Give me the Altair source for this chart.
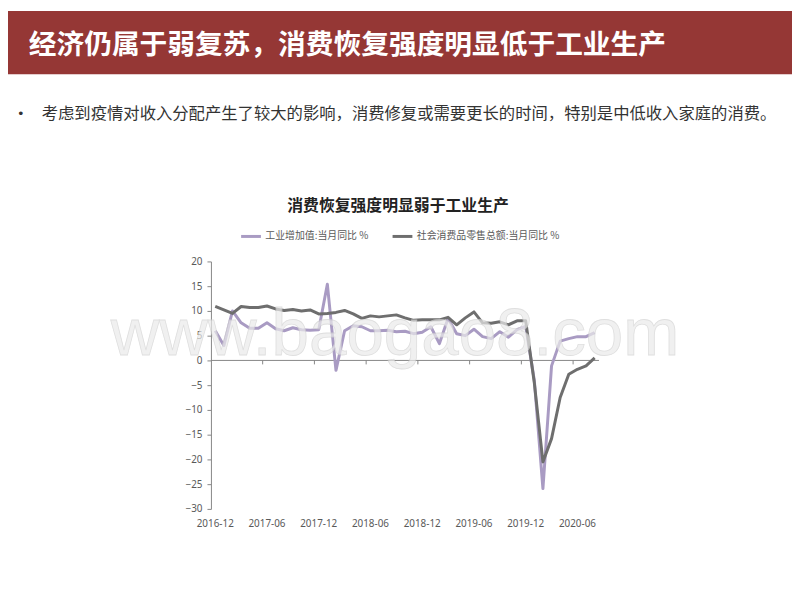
import altair as alt
import pandas as pd

months = [
    "2016-12",
    "2017-01", "2017-02", "2017-03", "2017-04", "2017-05", "2017-06",
    "2017-07", "2017-08", "2017-09", "2017-10", "2017-11", "2017-12",
    "2018-01", "2018-02", "2018-03", "2018-04", "2018-05", "2018-06",
    "2018-07", "2018-08", "2018-09", "2018-10", "2018-11", "2018-12",
    "2019-01", "2019-02", "2019-03", "2019-04", "2019-05", "2019-06",
    "2019-07", "2019-08", "2019-09", "2019-10", "2019-11", "2019-12",
    "2020-01", "2020-02", "2020-03", "2020-04", "2020-05", "2020-06",
    "2020-07", "2020-08",
]
industry = [
    6.0,
    3.0, 10.0, 7.6, 6.5, 6.5, 7.6, 6.4, 6.0, 6.6, 6.2, 6.1, 6.2,
    15.4, -2.0, 6.0, 7.0, 6.8, 6.0, 6.0, 6.1, 5.8, 5.9, 5.4, 5.7,
    6.8, 3.4, 8.5, 5.4, 5.0, 6.3, 4.8, 4.4, 5.8, 4.7, 6.2, 6.9,
    -4.0, -25.9, -1.1, 3.9, 4.4, 4.8, 4.8, 5.6,
]
retail = [
    10.9,
    10.2, 9.5, 10.9, 10.7, 10.7, 11.0, 10.4, 10.1, 10.3, 10.0, 10.2, 9.4,
    9.5, 9.7, 10.1, 9.4, 8.5, 9.0, 8.8, 9.0, 9.2, 8.6, 8.1, 8.2,
    8.2, 8.2, 8.7, 7.2, 8.6, 9.8, 7.6, 7.5, 7.8, 7.2, 8.0, 8.0,
    -4.5, -20.5, -15.8, -7.5, -2.8, -1.8, -1.1, 0.5,
]
series_names = ["工业增加值:当月同比 %", "社会消费品零售总额:当月同比 %"]
series_colors = ["#A99BC3", "#6E6E6E"]
y_ticks = [20, 15, 10, 5, 0, -5, -10, -15, -20, -25, -30]
x_labels = months[::6]

header_title = "经济仍属于弱复苏，消费恢复强度明显低于工业生产"
bullet_text = "考虑到疫情对收入分配产生了较大的影响，消费修复或需要更长的时间，特别是中低收入家庭的消费。"
chart_title = "消费恢复强度明显弱于工业生产"
watermark = "www.baogao8.com"

CJK = "Noto Sans CJK SC"
AXIS_GREY = "#868686"
LABEL_GREY = "#595959"

df = pd.DataFrame({
    "month": months * 2,
    "series": [series_names[0]] * len(months) + [series_names[1]] * len(months),
    "value": industry + retail,
})

x_scale = alt.Scale(type="band", domain=months, paddingInner=0, paddingOuter=0)
x_axis = alt.Axis(values=x_labels, ticks=False, domain=False, labelAngle=0,
                  labelOverlap=False, labelPadding=10, title=None,
                  labelColor=LABEL_GREY, labelFontSize=10, labelFont="Noto Sans")
y_scale = alt.Scale(domain=[-30, 20], nice=False)
y_axis = alt.Axis(values=y_ticks, grid=False, title=None, tickSize=4,
                  labelPadding=5, labelOverlap=False, domainColor=AXIS_GREY,
                  tickColor=AXIS_GREY, labelColor=LABEL_GREY, labelFontSize=10,
                  labelFont="Noto Sans")
color_enc = alt.Color(
    "series:N",
    scale=alt.Scale(domain=series_names, range=series_colors),
    legend=alt.Legend(title=None, orient="none", legendX=29, legendY=-37,
                      direction="horizontal", symbolType="stroke",
                      symbolSize=400, symbolStrokeWidth=3, labelFontSize=10,
                      labelColor=LABEL_GREY, labelFont=CJK, columnPadding=17,
                      labelOffset=3, labelLimit=400),
)

x_enc = alt.X("month:O", sort=months, scale=x_scale, axis=x_axis)
y_enc = alt.Y("value:Q", scale=y_scale, axis=y_axis)

one = pd.DataFrame({"k": [0]})

header = alt.Chart(one).mark_rect(color="#953735").encode(
    x=alt.value(-205), x2=alt.value(587), y=alt.value(-253), y2=alt.value(-189)
)
header_text = alt.Chart(pd.DataFrame({"t": [header_title]})).mark_text(
    font=CJK, fontSize=28, fontWeight="bold", color="white", align="left",
    baseline="middle"
).encode(text="t:N", x=alt.value(-184), y=alt.value(-218))
bullet = alt.Chart(pd.DataFrame({"t": ["•"]})).mark_text(
    font="DejaVu Sans", fontSize=13, color="#333333", align="left", baseline="middle"
).encode(text="t:N", x=alt.value(-196), y=alt.value(-149))
bullet_t = alt.Chart(pd.DataFrame({"t": [bullet_text]})).mark_text(
    font=CJK, fontSize=16.5, color="#333333", align="left", baseline="middle"
).encode(text="t:N", x=alt.value(-171), y=alt.value(-149))
title_t = alt.Chart(pd.DataFrame({"t": [chart_title]})).mark_text(
    font=CJK, fontSize=16, fontWeight="bold", color="#222222", align="center",
    baseline="middle"
).encode(text="t:N", x=alt.value(189), y=alt.value(-56))

zero_rule = alt.Chart(one).mark_rule(color=AXIS_GREY, strokeWidth=1).encode(
    y=alt.Y(datum=0, type="quantitative", scale=y_scale, axis=y_axis)
)
ticks = alt.Chart(pd.DataFrame({"month": x_labels[1:]})).mark_rule(
    color=AXIS_GREY, strokeWidth=1
).encode(
    x=alt.X("month:O", sort=months, scale=x_scale, axis=x_axis, bandPosition=0),
    y=alt.Y(datum=0, type="quantitative", scale=y_scale, axis=y_axis),
    y2=alt.Y2(datum=-0.8),
)

line_ind = alt.Chart(df[df["series"] == series_names[0]]).mark_line(
    strokeWidth=3, strokeJoin="round"
).encode(x=x_enc, y=y_enc, color=color_enc)
line_ret = alt.Chart(df[df["series"] == series_names[1]]).mark_line(
    strokeWidth=3, strokeJoin="round"
).encode(x=x_enc, y=y_enc, color=color_enc)

wm = alt.Chart(pd.DataFrame({"t": [watermark]})).mark_text(
    font="Liberation Sans", fontSize=68, color="#ebebeb", opacity=0.7,
    stroke="#d2d2d2", strokeWidth=0.8, align="center", baseline="alphabetic"
).encode(text="t:N", x=alt.value(186), y=alt.value(95))

chart = alt.layer(
    header, header_text, bullet, bullet_t, title_t,
    zero_rule, ticks, line_ind, line_ret, wm
).properties(
    width=392, height=250,
    padding={"left": 205, "top": 253, "right": 195, "bottom": 89},
    autosize=alt.AutoSizeParams(type="none"),
    background="white",
).configure_view(strokeWidth=0)

chart.save("out.html", embed_options={"renderer": "svg", "actions": False})
